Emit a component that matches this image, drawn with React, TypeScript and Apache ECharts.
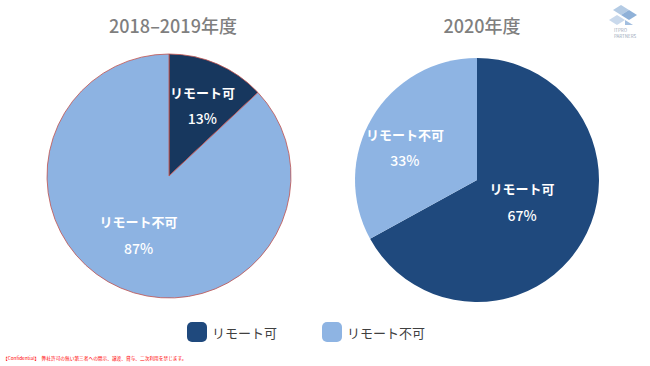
import React, { useEffect, useRef } from "react";
import * as echarts from "echarts";

const categories = ["リモート可", "リモート不可"];
const values2018 = [13, 87];
const values2020 = [67, 33];
const titles = ["2018–2019年度", "2020年度"];
const confidential = "【Confidential】　弊社許可の無い第三者への開示、譲渡、貸与、二次利用を禁じます。";

const FONT = "'Noto Sans CJK JP', 'Noto Sans', sans-serif";

export default function App() {
  const ref = useRef<HTMLDivElement>(null);
  useEffect(() => {
    if (!ref.current) return;
    const chart = echarts.init(ref.current, undefined, { renderer: "svg" });
    const labelCfg = {
      show: true,
      position: "inside",
      formatter: "{n|{b}}\n{p|{c}%}",
      rich: {
        n: { color: "#ffffff", fontSize: 13, fontWeight: "bold", fontFamily: FONT, lineHeight: 26 },
        p: { color: "#ffffff", fontSize: 14, fontWeight: 500, fontFamily: FONT, lineHeight: 26 },
      },
    };
    const leftColors = ["#17375e", "#8db3e2"];
    const rightColors = ["#1f497d", "#8eb4e3"];
    const leftOffsets = [[8, -12], [-5, 0]];
    const rightOffsets = [[-10, -11], [-17, 0]];
    chart.setOption({
      animation: false,
      backgroundColor: "#ffffff",
      title: titles.map((t, i) => ({
        text: t,
        left: i === 0 ? 168 : 477,
        textAlign: "center",
        top: 11,
        textStyle: { color: "#7f7f7f", fontSize: 18, fontWeight: 500, fontFamily: FONT },
      })),
      legend: {
        left: 187,
        top: 322,
        padding: 0,
        itemWidth: 20,
        itemHeight: 20,
        itemGap: 45,
        icon: "roundRect",
        itemStyle: { borderWidth: 0 },
        textStyle: { color: "#404040", fontSize: 13, fontFamily: FONT },
        data: categories.map((c, i) => ({ name: c, itemStyle: { color: rightColors[i], borderWidth: 0 } })),
      },
      series: [
        {
          type: "pie",
          center: [169, 176],
          radius: [0, 122],
          label: labelCfg,
          labelLine: { show: false },
          itemStyle: { borderColor: "#c0504d", borderWidth: 0.8 },
          emphasis: { disabled: true },
          data: categories.map((c, i) => ({
            name: c,
            value: values2018[i],
            itemStyle: { color: leftColors[i] },
            label: { offset: leftOffsets[i] },
          })),
        },
        {
          type: "pie",
          center: [477, 180],
          radius: [0, 122],
          label: labelCfg,
          labelLine: { show: false },
          itemStyle: { borderColor: "#ffffff", borderWidth: 0 },
          emphasis: { disabled: true },
          data: categories.map((c, i) => ({
            name: c,
            value: values2020[i],
            itemStyle: { color: rightColors[i] },
            label: { offset: rightOffsets[i] },
          })),
        },
      ],
      graphic: [
        {
          type: "text",
          left: 3,
          top: 356,
          style: { text: confidential, fill: "#ff0000", fontSize: 4.7, fontFamily: FONT },
        },
        {
          type: "group",
          left: 609,
          top: 5,
          children: [
            { type: "polygon", shape: { points: [[8, 0], [16, 5], [8, 10], [0, 5]] }, style: { fill: "#b4cbe4" } },
            { type: "polygon", shape: { points: [[16, 5], [24, 10], [16, 15], [8, 10]] }, style: { fill: "#8fb1d8" } },
            { type: "polygon", shape: { points: [[4, 10], [12, 15], [4, 20], [-4, 15]] }, style: { fill: "#c9d9ec" } },
            { type: "polygon", shape: { points: [[12, 15], [20, 20], [12, 20]] }, style: { fill: "#a3bfe0" } },
            { type: "text", x: 1, y: 23, style: { text: "ITPRO", fill: "#9aa8b8", fontSize: 4.5, fontFamily: FONT } },
            { type: "text", x: 1, y: 29, style: { text: "PARTNERS", fill: "#9aa8b8", fontSize: 4.5, fontFamily: FONT } },
          ],
        },
      ],
    });
    return () => chart.dispose();
  }, []);
  return (
    <div
      ref={ref}
      style={{ position: "absolute", left: 0, top: 0, width: 650, height: 366 }}
    />
  );
}
